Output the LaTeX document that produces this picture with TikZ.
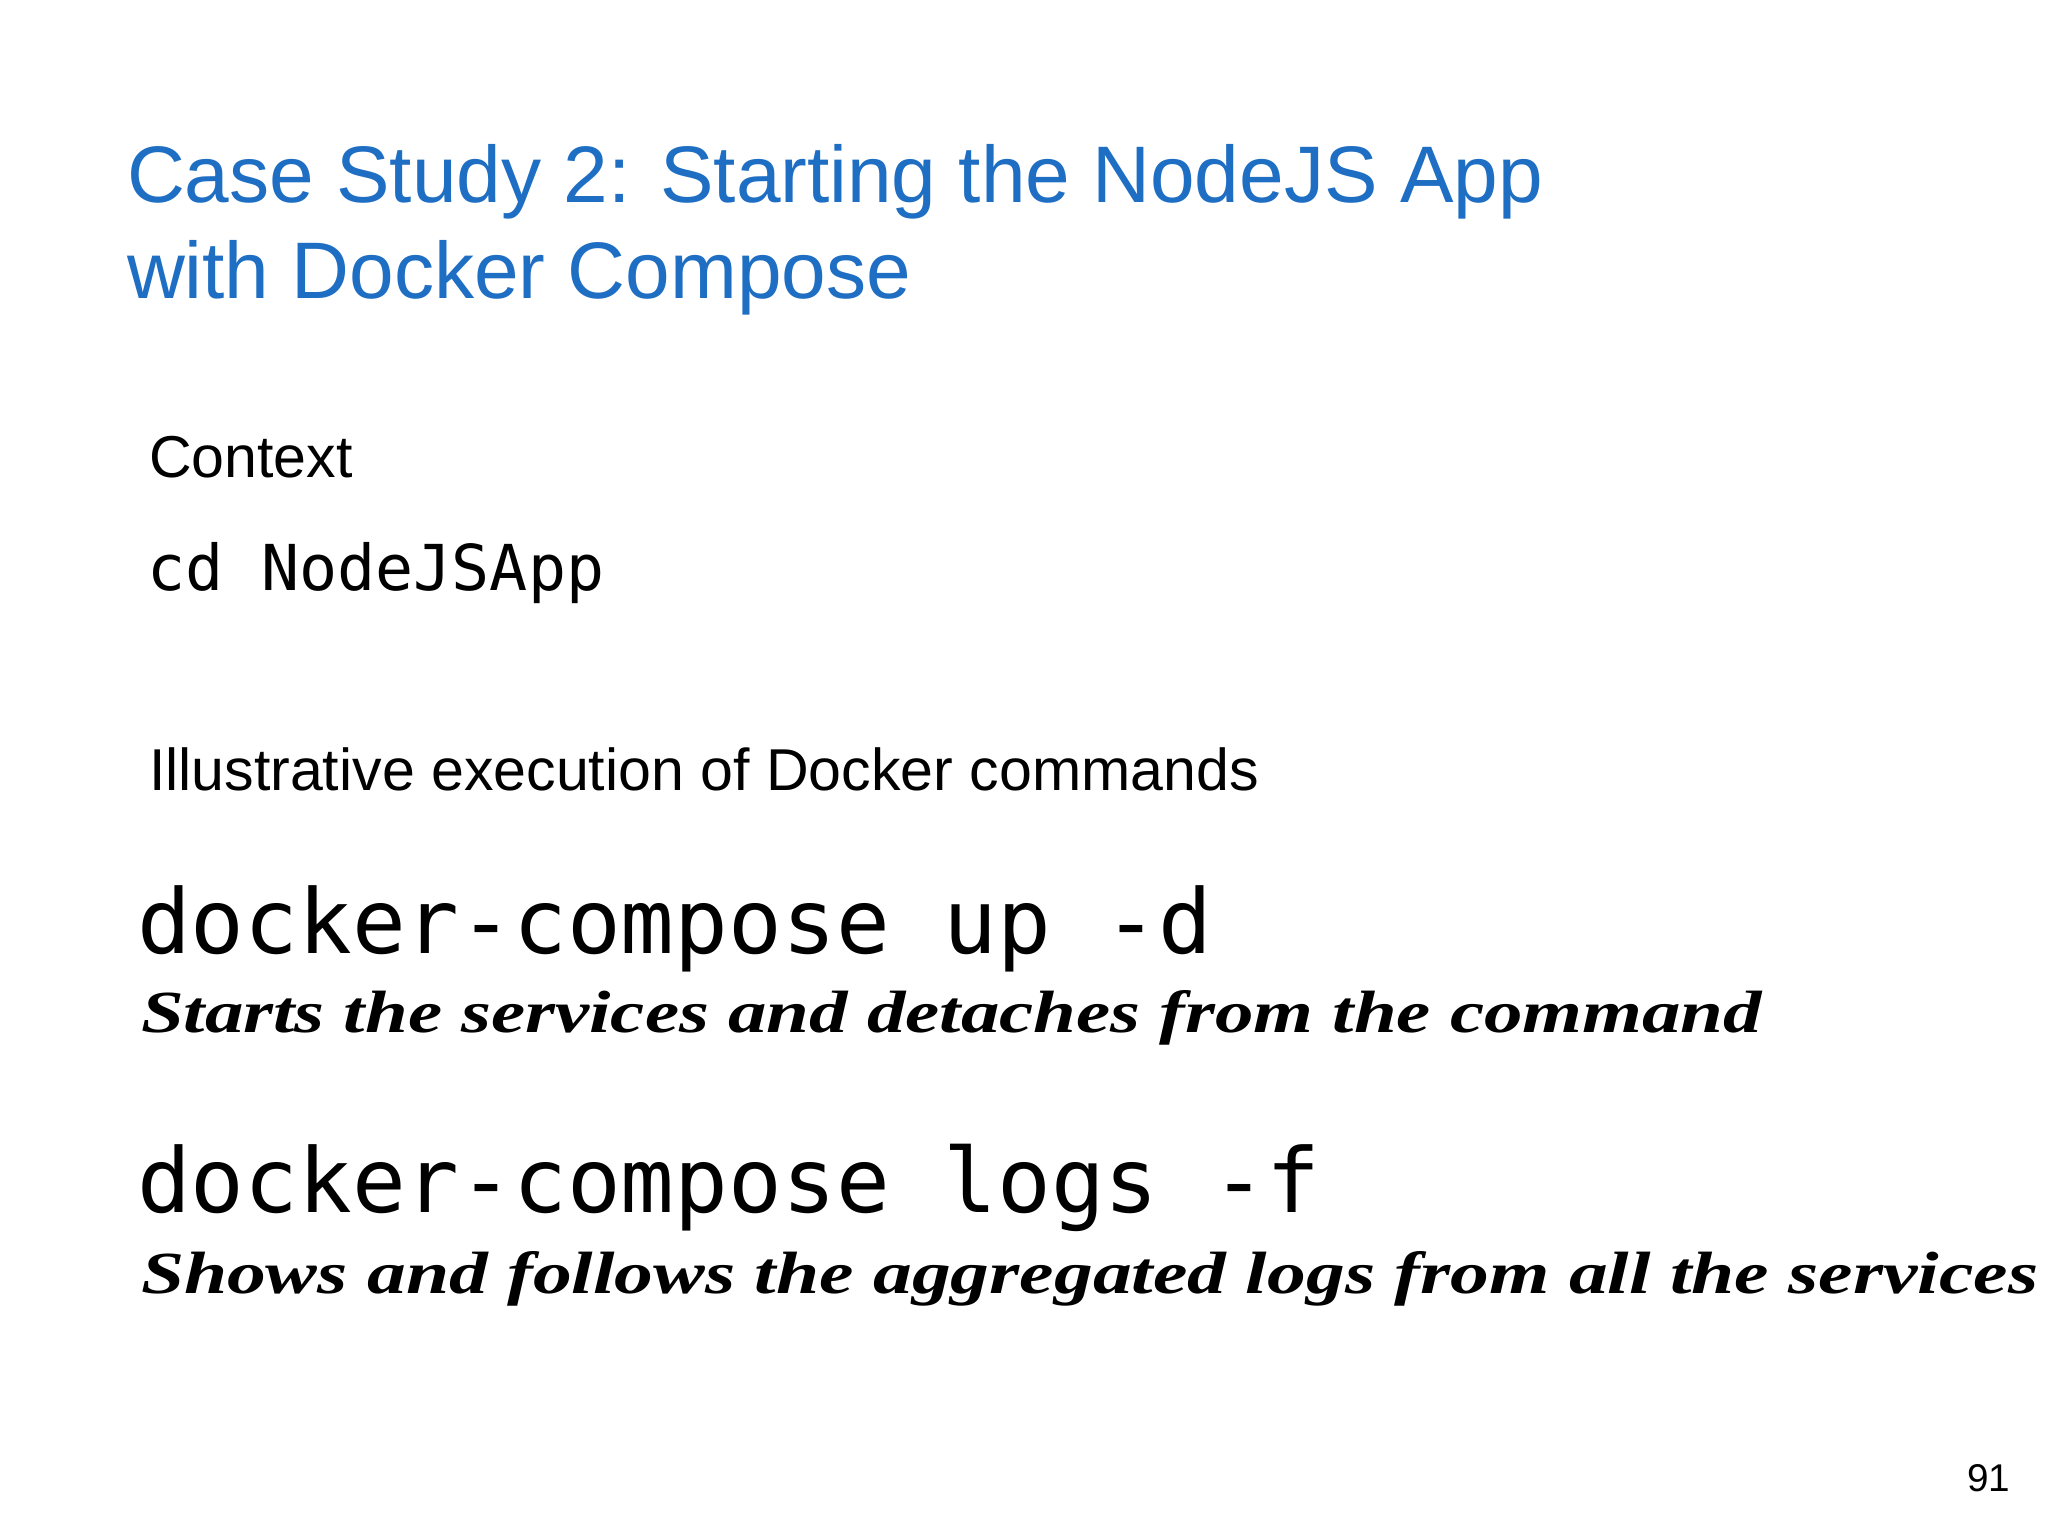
\documentclass[tikz,border=0pt]{standalone}
\usepackage{fontspec}
\setmainfont{Liberation Sans}
\newfontfamily\monof{DejaVu Sans Mono}
\newfontfamily\handf{Liberation Serif}
\definecolor{titleblue}{RGB}{30,110,195}
\begin{document}
\begin{tikzpicture}[x=0.01cm,y=-0.01cm,
  txt/.style={anchor=base west,inner sep=0pt,outer sep=0pt},
  title/.style={txt,text=titleblue,font=\fontsize{22.8}{27}\selectfont},
  body/.style={txt,font=\fontsize{16.8}{20}\selectfont},
  cmd/.style={txt,font=\monof\fontsize{25.4}{30}\selectfont},
  hand/.style={txt,font=\handf\itshape\bfseries}]
\useasboundingbox[fill=white] (0,0) rectangle (2048,1536);
\node[title] (t1) at (127,202) {Case Study 2: Starting the NodeJS App};
\node[title] (t2) at (127,298) {with Docker Compose};
\node[body] (ctx) at (149,477) {Context};
\node[txt,font=\monof\fontsize{18}{22}\selectfont] (cd) at (147,590) {cd NodeJSApp};
\node[body] (ill) at (149,790) {Illustrative execution of Docker commands};
\node[cmd] (c1) at (137,953) {docker-compose up -d};
\node[hand] (h1) at (141,1032) {\resizebox{16.2cm}{0.42cm}{Starts the services and detaches from the command}};
\node[cmd] (c2) at (137,1212) {docker-compose logs -f};
\node[hand] (h2) at (141,1293) {\resizebox{18.96cm}{0.42cm}{Shows and follows the aggregated logs from all the services}};
\node[txt,font=\fontsize{11}{13}\selectfont] (pg) at (1967,1491) {91};
\end{tikzpicture}
\end{document}
